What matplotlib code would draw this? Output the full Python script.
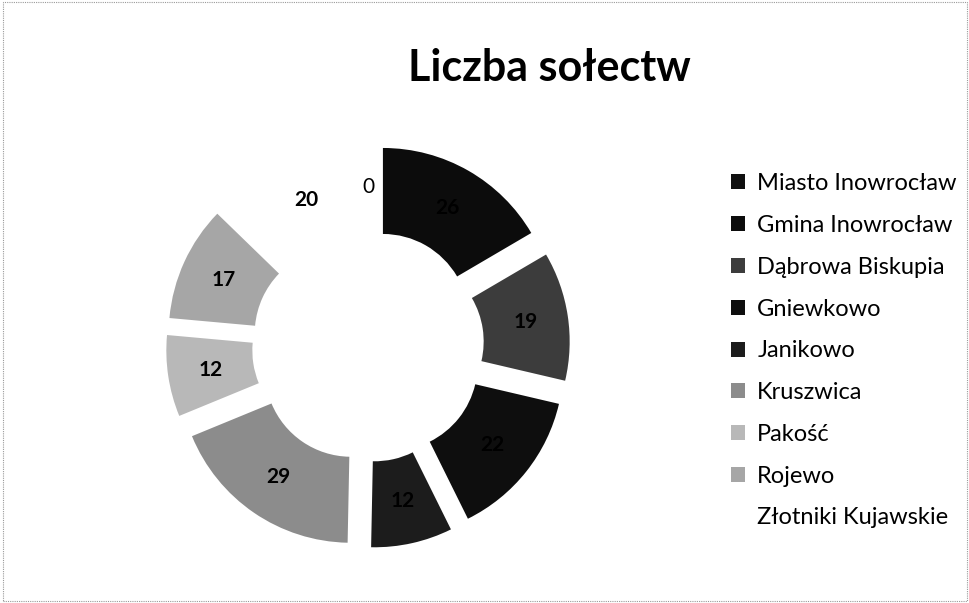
import matplotlib
matplotlib.use("Agg")
import matplotlib.pyplot as plt
from matplotlib.patches import Patch, Rectangle
import numpy as np

# ── Data ──────────────────────────────────────────────────────────────────
GMINY = ["Miasto Inowrocław", "Gmina Inowrocław", "Dąbrowa Biskupia",
         "Gniewkowo", "Janikowo", "Kruszwica", "Pakość", "Rojewo",
         "Złotniki Kujawskie"]
SOLECTWA = [0, 26, 19, 22, 12, 29, 12, 17, 20]
COLORS = ["#101010", "#0c0c0c", "#3c3c3c", "#0e0e0e", "#1c1c1c",
          "#8c8c8c", "#b8b8b8", "#a6a6a6", "#ffffff"]
TITLE = "Liczba sołectw"

plt.rcParams["font.family"] = ["Lato", "DejaVu Sans"]

W, H = 970, 603
fig = plt.figure(figsize=(W / 100, H / 100), dpi=100)
ax = fig.add_axes([0, 0, 1, 1])

# thin dotted frame around the chart area
fig.patches.append(Rectangle((0.003, 0.003), 0.994, 0.994, transform=fig.transFigure,
                             fill=False, edgecolor="#9a9a9a", lw=0.8, ls=(0, (1, 1))))

cx, cy = 368, H - 346
R, ring = 172, 86
wedges, _ = ax.pie(SOLECTWA, colors=COLORS, startangle=90, counterclock=False,
                   radius=R, center=(cx, cy), explode=[30] * len(SOLECTWA),
                   wedgeprops=dict(width=ring, linewidth=0), frame=True)
ax.set_xlim(0, W)
ax.set_ylim(0, H)
ax.set_aspect("equal")
ax.axis("off")

# data labels in the middle of each ring segment
for w, val in zip(wedges, SOLECTWA):
    mid = np.deg2rad((w.theta1 + w.theta2) / 2)
    rr = w.r - w.width / 2
    x = w.center[0] + rr * np.cos(mid)
    y = w.center[1] + rr * np.sin(mid)
    weight = "normal" if val == 0 else "bold"
    ax.text(x, y, str(val), ha="center", va="center", fontsize=15,
            fontweight=weight, color="black")

fig.text(549 / W, 1 - 68 / H, TITLE, ha="center", va="center",
         fontsize=31, fontweight="bold")

handles = [Patch(facecolor=c, edgecolor="none") for c in COLORS]
fig.legend(handles, GMINY, loc="upper left", bbox_to_anchor=(710 / W, 1 - 152 / H),
           frameon=False, fontsize=17, handlelength=0.6, handleheight=0.6,
           handletextpad=0.5, labelspacing=0.88)

fig.savefig("out.png", dpi=100, facecolor="white")
